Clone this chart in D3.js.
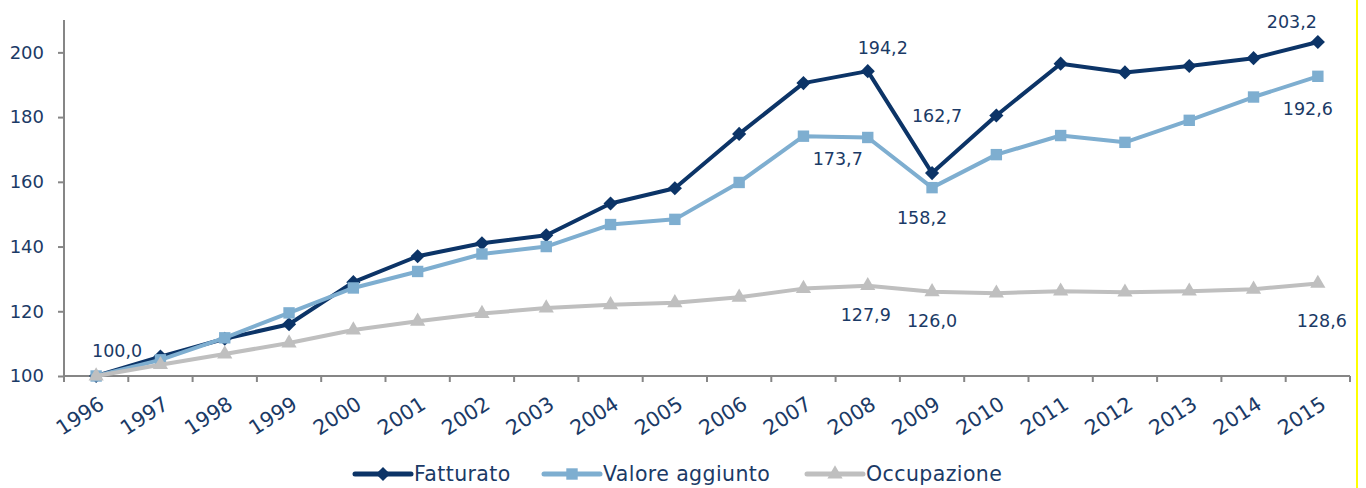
<!DOCTYPE html>
<html>
<head>
<meta charset="utf-8">
<script src="https://cdn.jsdelivr.net/npm/d3@7"></script>
<style>
  body { margin: 0; background: #fff; }
  svg { display: block; font-family: "DejaVu Sans", sans-serif; }
</style>
</head>
<body>
<svg width="1366" height="488"></svg>
<script>
const SVG_WIDTH = 1366;
const SVG_HEIGHT = 488;
const LEFT = 64, RIGHT = 1350, TOP = 20, BOTTOM = 376;
const TEXT_COLOR = "#1b3a66";
const FONT = "DejaVu Sans";
const FONT_SIZE = 17.5;

// data
var years = ["1996", "1997", "1998", "1999", "2000", "2001", "2002", "2003", "2004", "2005",
  "2006", "2007", "2008", "2009", "2010", "2011", "2012", "2013", "2014", "2015"];
var fatturato = [100.0, 106.0, 111.5, 116.0, 129.0, 137.0, 141.0, 143.5, 153.3, 158.0,
  174.8, 190.5, 194.2, 162.7, 180.5, 196.5, 193.8, 195.8, 198.2, 203.2];
var valore = [100.0, 105.0, 111.8, 119.5, 127.2, 132.3, 137.7, 140.0, 146.8, 148.4,
  159.8, 174.1, 173.7, 158.2, 168.4, 174.3, 172.2, 179.0, 186.2, 192.6];
var occupazione = [100.0, 103.5, 106.8, 110.2, 114.2, 116.9, 119.3, 121.0, 122.0, 122.6,
  124.3, 127.0, 127.9, 126.0, 125.6, 126.2, 125.9, 126.2, 126.8, 128.6];
var y_ticks = [100, 120, 140, 160, 180, 200];
var series_names = ["Fatturato", "Valore aggiunto", "Occupazione"];
// labelled points: [series index, year]
var labelled = [[0, "1996"], [0, "2008"], [0, "2009"], [0, "2015"],
  [1, "2008"], [1, "2009"], [1, "2015"],
  [2, "2008"], [2, "2009"], [2, "2015"]];

var series = [
  { name: series_names[0], values: fatturato, color: "#0c3467", marker: "diamond" },
  { name: series_names[1], values: valore, color: "#7eaed0", marker: "square" },
  { name: series_names[2], values: occupazione, color: "#bfbfbf", marker: "triangle" }
];

// where each label sits relative to its point (layout only)
var label_offset = {
  "0-1996": [21, -25], "0-2008": [15, -23], "0-2009": [5, -57], "0-2015": [-26, -20],
  "1-2008": [-30, 21], "1-2009": [-10, 30], "1-2015": [-10, 33],
  "2-2008": [-2, 29], "2-2009": [0, 29], "2-2015": [4, 37]
};

var svg = d3.select("svg");

var x_scale = d3.scaleBand().domain(years).range([LEFT, RIGHT]).padding(0);
var y_scale = d3.scaleLinear().domain([100, 210]).range([BOTTOM, TOP]);
var cx = (d) => x_scale(d) + x_scale.bandwidth() / 2;

// yellow edge line on the right
svg.append("line")
  .attr("x1", 1357).attr("x2", 1357)
  .attr("y1", 0).attr("y2", SVG_HEIGHT)
  .attr("stroke", "#ffff00").attr("stroke-width", 2);

// y axis
var yAxis = d3.axisLeft(y_scale).tickValues(y_ticks).tickSize(6).tickPadding(14).tickFormat(d3.format("d"));
var gy = svg.append("g").attr("transform", "translate(" + LEFT + ",0)").call(yAxis);
gy.select(".domain").attr("stroke", "#868686").attr("stroke-width", 2).attr("d", "M0," + TOP + "V" + BOTTOM);
gy.selectAll(".tick line").attr("stroke", "#868686").attr("stroke-width", 2);
gy.selectAll(".tick text").attr("fill", TEXT_COLOR).attr("font-size", 18).attr("font-family", FONT);

// x axis: ticks at band boundaries
var xAxis = d3.axisBottom(x_scale).tickSize(0).tickSizeOuter(0);
var gx = svg.append("g").attr("transform", "translate(0," + BOTTOM + ")").call(xAxis);
gx.select(".domain").attr("stroke", "#868686").attr("stroke-width", 2).attr("d", "M" + LEFT + ",0H" + RIGHT);
gx.selectAll(".tick text")
  .attr("fill", TEXT_COLOR).attr("font-size", 20.5).attr("font-family", FONT)
  .attr("text-anchor", "end")
  .attr("transform", "translate(4,23) rotate(-33)")
  .attr("dy", "0.35em");
var boundaries = years.map((d) => x_scale(d)).concat([RIGHT]);
gx.selectAll(".bound").data(boundaries).enter().append("line")
  .attr("class", "bound")
  .attr("x1", (d) => d).attr("x2", (d) => d)
  .attr("y1", 0).attr("y2", 6)
  .attr("stroke", "#868686").attr("stroke-width", 2);

function marker_path(type) {
  if (type === "triangle") return d3.symbol().type(d3.symbolTriangle).size(100)();
  if (type === "square") return d3.symbol().type(d3.symbolSquare).size(130)();
  return d3.symbol().type(d3.symbolSquare).size(100)();
}
function marker_rot(type) {
  return type === "diamond" ? " rotate(45)" : "";
}

var line = d3.line().x((d, i) => cx(years[i])).y((d) => y_scale(d));

series.forEach((s) => {
  var g = svg.append("g");
  g.append("path")
    .datum(s.values)
    .attr("d", line)
    .attr("fill", "none")
    .attr("stroke", s.color)
    .attr("stroke-width", 4)
    .attr("stroke-linejoin", "round");
  g.selectAll("path.mk")
    .data(s.values)
    .enter()
    .append("path")
    .attr("class", "mk")
    .attr("d", marker_path(s.marker))
    .attr("transform", (d, i) => "translate(" + cx(years[i]) + "," + y_scale(d) + ")" + marker_rot(s.marker))
    .attr("fill", s.color);
});

// data labels
svg.selectAll("text.lbl")
  .data(labelled)
  .enter()
  .append("text")
  .attr("class", "lbl")
  .attr("x", (d) => cx(d[1]) + label_offset[d[0] + "-" + d[1]][0])
  .attr("y", (d) => y_scale(series[d[0]].values[years.indexOf(d[1])]) + label_offset[d[0] + "-" + d[1]][1])
  .attr("dy", "0.35em")
  .attr("text-anchor", "middle")
  .attr("font-size", FONT_SIZE)
  .attr("fill", TEXT_COLOR)
  .text((d) => series[d[0]].values[years.indexOf(d[1])].toFixed(1).replace(".", ","));

// legend
var legend_x = [355, 544, 807];
var legend = svg.selectAll("g.leg")
  .data(series)
  .enter()
  .append("g")
  .attr("class", "leg")
  .attr("transform", (d, i) => "translate(" + legend_x[i] + ",474)");
legend.append("line")
  .attr("x1", 0).attr("x2", 56)
  .attr("stroke", (d) => d.color).attr("stroke-width", 5).attr("stroke-linecap", "round");
legend.append("path")
  .attr("d", (d) => marker_path(d.marker))
  .attr("transform", (d) => "translate(28,0)" + marker_rot(d.marker))
  .attr("fill", (d) => d.color);
legend.append("text")
  .attr("x", 59)
  .attr("dy", "0.35em")
  .attr("font-size", 20.5)
  .attr("letter-spacing", 0.4)
  .attr("fill", TEXT_COLOR)
  .text((d) => d.name);
</script>
</body>
</html>
